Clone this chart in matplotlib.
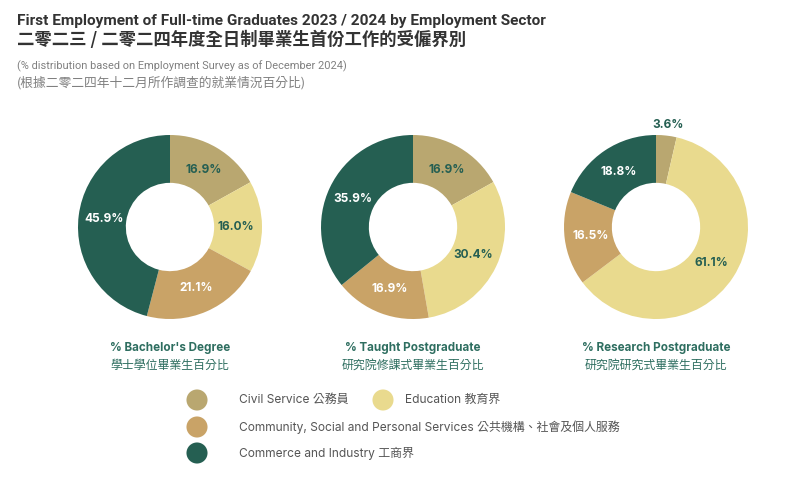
import matplotlib
matplotlib.use("Agg")
import matplotlib.pyplot as plt

# data
sectors = ["Civil Service 公務員", "Education 教育界",
           "Community, Social and Personal Services 公共機構、社會及個人服務",
           "Commerce and Industry 工商界"]
colors = ["#B9A770", "#E9DA8E", "#C9A367", "#255F52"]
text_colors = ["#255F52", "#255F52", "white", "white"]

programmes = ["% Bachelor's Degree", "% Taught Postgraduate", "% Research Postgraduate"]
programmes_zh = ["學士學位畢業生百分比", "研究院修課式畢業生百分比", "研究院研究式畢業生百分比"]
bachelor = [16.9, 16.0, 21.1, 45.9]
taught = [16.9, 30.4, 16.9, 35.9]
research = [3.6, 61.1, 16.5, 18.8]
shares = [bachelor, taught, research]

W, H = 800, 492
fig = plt.figure(figsize=(W / 100, H / 100), dpi=100)
fig.patch.set_facecolor("white")

CJK = "Noto Sans CJK TC"
teal = "#2E6E60"

# titles
fig.text(17 / W, 1 - 21 / H, "First Employment of Full-time Graduates 2023 / 2024 by Employment Sector",
         family=["Roboto", CJK], weight="bold", size=11.1, color="#333333", va="center")
fig.text(17 / W, 1 - 40 / H, "二零二三 / 二零二四年度全日制畢業生首份工作的受僱界別",
         family=[CJK, "Roboto"], weight="bold", size=12.5, color="#333333", va="center")
fig.text(17 / W, 1 - 66 / H, "(% distribution based on Employment Survey as of December 2024)",
         family=["Roboto", CJK], size=7.9, color="#808080", va="center")
fig.text(17 / W, 1 - 83 / H, "(根據二零二四年十二月所作調查的就業情況百分比)",
         family=[CJK, "Roboto"], size=9.2, color="#808080", va="center")

# donuts
R = 92
L = 1.3
S = 2 * R * L
centers_x = [170, 413, 656]
cy = 227
for cx, vals, name, name_zh in zip(centers_x, shares, programmes, programmes_zh):
    ax = fig.add_axes([(cx - S / 2) / W, (H - cy - S / 2) / H, S / W, S / H])
    wedges, texts = ax.pie(vals, colors=colors, startangle=90, counterclock=False,
                           wedgeprops=dict(width=0.52, edgecolor="none"),
                           labels=[f"{v:.1f}%" for v in vals], labeldistance=0.72,
                           textprops=dict(family=["Inter", "DejaVu Sans"], weight="bold", size=8.5))
    for t, v, tc in zip(texts, vals, text_colors):
        t.set_ha("center")
        t.set_va("center")
        if v < 5:
            # small slice: label sits outside the ring
            x, y = t.get_position()
            t.set_position((x / 0.72 * 1.12, y / 0.72 * 1.12))
            t.set_color("#255F52")
        else:
            t.set_color(tc)
    ax.set_xlim(-L, L)
    ax.set_ylim(-L, L)
    ax.set_aspect("equal")
    fig.text(cx / W, 1 - 348 / H, name, family=["Inter", CJK], weight="bold",
             size=8.4, color=teal, ha="center", va="center")
    fig.text(cx / W, 1 - 365 / H, name_zh, family=[CJK, "Inter"],
             size=8.6, color=teal, ha="center", va="center")

# legend
lax = fig.add_axes([0, 0, 1, 1])
lax.set_xlim(0, W)
lax.set_ylim(H, 0)
lax.axis("off")
leg_pos = [(197, 400), (383, 400), (197, 427), (197, 453)]
leg_gap = [42, 22, 42, 42]
for (x, y), gap, c, lab in zip(leg_pos, leg_gap, colors, sectors):
    lax.scatter([x], [y], s=230, color=c, edgecolors="none")
    lax.text(x + gap, y, lab, family=["Inter", CJK], size=8.6, color="#555555", va="center")

fig.savefig("out.png", dpi=100)
